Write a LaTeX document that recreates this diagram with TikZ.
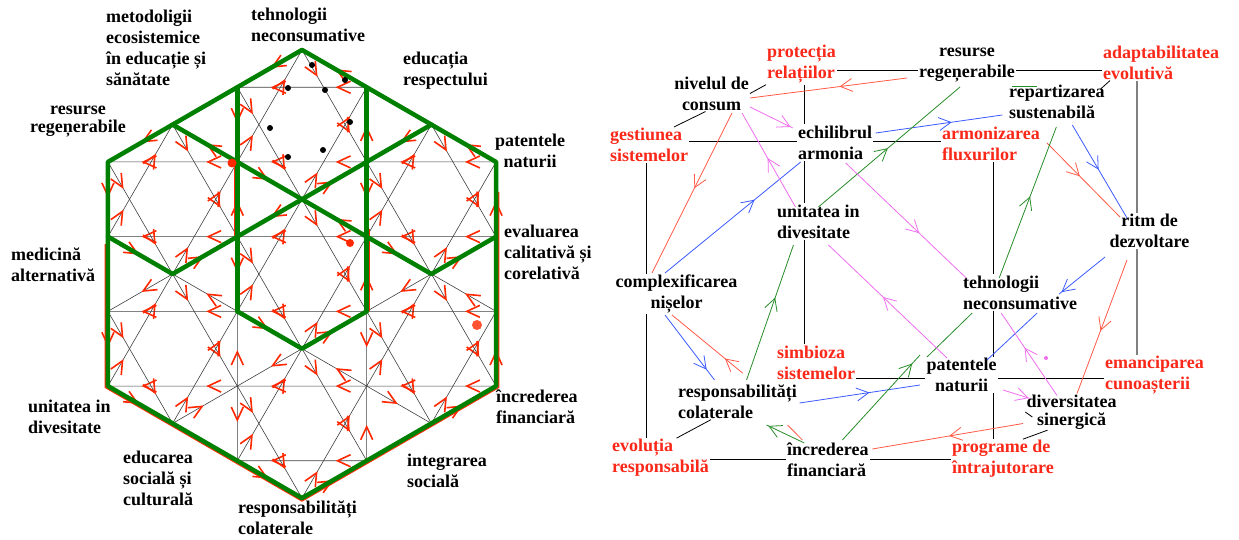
\documentclass[tikz,border=0pt]{standalone}
\usepackage{fontspec}
\setmainfont{Liberation Serif}
\usetikzlibrary{calc}
\usetikzlibrary{arrows.meta}
\usetikzlibrary{decorations.markings}

\definecolor{hexgreen}{RGB}{0,128,0}
\definecolor{barbred}{RGB}{255,40,0}
\definecolor{labelred}{RGB}{250,40,25}
\definecolor{linkred}{RGB}{255,90,70}
\definecolor{linkblue}{RGB}{60,90,255}
\definecolor{linkgreen}{RGB}{40,140,40}
\definecolor{linkpink}{RGB}{240,110,240}

\tikzset{
  lbl/.style={font=\fontsize{18}{21}\selectfont\bfseries, inner sep=1pt, align=left, anchor=west},
  clbl/.style={lbl, align=center, anchor=center},
  redlbl/.style={lbl, text=labelred},
  lattice/.style={draw=black!75, line width=0.6pt},
  barbs/.style={postaction={decorate}, decoration={markings,
      mark=between positions 0.08 and 1 step 0.1667 with
      {\arrow{Straight Barb[length=13pt,width=12pt,line width=1.6pt,color=barbred]}}}},
  kagome/.style={draw=hexgreen, line width=4.5pt, line join=round, line cap=round},
  cube/.style={draw=black, line width=0.8pt},
  link/.style={line width=0.8pt},
  tipat/.style={postaction={decorate}, decoration={markings,
      mark=at position #1 with {\arrow{Straight Barb[length=12pt,width=13pt]}}}},
}

\begin{document}
\begin{tikzpicture}[x=1pt, y=-1pt]
  \useasboundingbox[fill=white] (0,0) rectangle (1239,540);

  % seven cells, each with its star
  \begin{scope}[shift={(302,274)}, x=74.7pt, y=74.7pt]
    \foreach \ang/\dist in {0/0, 90/2, 30/2, -30/2, -90/2, -150/2, 150/2}{
      \begin{scope}[shift={(\ang:\dist)}]
        \draw[lattice, barbs] (90:1) -- (-30:1) -- (210:1) -- cycle;
        \draw[lattice, barbs] (-90:1) -- (30:1) -- (150:1) -- cycle;
        \draw[lattice, barbs] (90:1) -- (150:1) -- (210:1) -- (270:1) -- (330:1) -- (30:1) -- cycle;
      \end{scope}
    }
    \draw[barbred, line width=1.2pt] (-2.633,0.4) -- (-2.633,-1.52) -- (0,-3.04) -- (2.633,-1.52) -- (2.633,1.1);
    \draw[barbred, line width=1.2pt] (-0.906,1.45) -- (-0.906,0.45);
    \draw[barbred, line width=1.2pt] (0.906,0.6) -- (0.906,-0.5);

    \draw[kagome] (90:3) -- (150:3) -- (210:3) -- (270:3) -- (330:3) -- (30:3) -- cycle;
    \draw[kagome] (-0.866,2.5) -- (-0.866,-0.5);
    \draw[kagome] (0.866,2.5) -- (0.866,-0.5);
    \draw[kagome] (-1.732,2) -- (1.732,0) -- (2.598,0.5);
    \draw[kagome] (1.732,2) -- (-1.732,0) -- (-2.598,0.5);
    \draw[kagome] (-0.866,-0.5) -- (0,-1) -- (0.866,-0.5);
  \end{scope}

  \foreach \x/\y in {312/65, 345/80, 288/88, 325/90, 350/122, 270/128, 323/150, 288/157}
    \fill (\x,\y) circle (3pt);
  \fill[barbred] (232,163) circle (4.5pt);
  \fill[barbred] (350,243) circle (4pt);
  \fill[barbred, opacity=0.8] (477,325) circle (5pt);

  \node[lbl] (metod) at (105,48) {metodoligii\\ecosistemice\\în educație și\\sănătate};
  \node[lbl] (tehnL) at (250,24.5) {tehnologii\\neconsumative};
  \node[lbl] (educ) at (402,70.5) {educația\\respectului};
  \node[clbl, font=\fontsize{18}{18.5}\selectfont\bfseries] (resurseL) at (78,121.5) {resurse\\regeņerabile};
  \node[clbl] (patentL) at (530,151) {patentele\\naturii};
  \node[lbl] (evalL) at (503,252) {evaluarea\\calitativă și\\corelativă};
  \node[lbl] (medic) at (10,265) {medicină\\alternativă};
  \node[lbl] (unitL) at (27,416.5) {unitatea in\\divesitate};
  \node[lbl] (increderL) at (495,407) {încrederea\\financiară};
  \node[lbl] (educS) at (122,478.5) {educarea\\socială și\\culturală};
  \node[lbl] (integr) at (406,471) {integrarea\\socială};
  \node[lbl] (respL) at (237,518) {responsabilități\\colaterale};

  % the cube of notions
  \node[redlbl] (protect) at (766,64.5) {protecția\\relațiilor};
  \node[clbl] (nivel) at (711.5,93.5) {nivelul de\\consum};
  \node[clbl] (resurseR) at (967,65.5) {resurse\\regeņerabile};
  \node[redlbl] (adapt) at (1102,62.5) {adaptabilitatea\\evolutivă};
  \node[lbl] (repart) at (1008,102) {repartizarea\\sustenabilă};
  \node[redlbl] (gestiune) at (609,145) {gestiunea\\sistemelor};
  \node[lbl] (echil) at (797,142.5) {echilibrul\\armonia};
  \node[redlbl] (armoniz) at (941,143.5) {armonizarea\\fluxurilor};
  \node[lbl] (unitR) at (776,221.5) {unitatea in\\divesitate};
  \node[clbl] (ritm) at (1149.5,231) {ritm de\\dezvoltare};
  \node[clbl] (complex) at (676.5,294) {complexificarea\\nișelor};
  \node[lbl] (tehnR) at (962,292.5) {tehnologii\\neconsumative};
  \node[redlbl] (simbioza) at (776,362.5) {simbioza\\sistemelor};
  \node[clbl] (patentR) at (961.5,375) {patentele\\naturii};
  \node[redlbl] (emancip) at (1104,375) {emanciparea\\cunoașterii};
  \node[lbl] (respR) at (677,401.5) {responsabilități\\colaterale};
  \node[clbl, font=\fontsize{18}{17.5}\selectfont\bfseries] (divers) at (1071.5,412) {diversitatea\\sinergică};
  \node[redlbl] (evolutia) at (611,458) {evoluția\\responsabilă};
  \node[lbl] (increderea) at (786,460) {încrederea\\financiară};
  \node[redlbl] (programe) at (951,459) {programe de\\întrajutorare};

  \coordinate (btl) at (646,141);
  \coordinate (btr) at (993,141);
  \coordinate (bbl) at (646,459);
  \coordinate (ftl) at (804,70);
  \coordinate (ftr) at (1137,70);
  \coordinate (fbl) at (804,378);

  \draw[cube] (gestiune.east |- btl) -- (echil.west |- btl);
  \draw[cube] (echil.east |- btl) -- (armoniz.west |- btl);
  \draw[cube] (gestiune.south -| btl) -- (complex.north -| btl);
  \draw[cube] (complex.south -| btl) -- (evolutia.north -| btl);
  \draw[cube] (evolutia.east |- bbl) -- (increderea.west |- bbl);
  \draw[cube] (increderea.east |- bbl) -- (programe.west |- bbl);
  \draw[cube] (armoniz.south -| btr) -- (tehnR.north -| btr);
  \draw[cube] (tehnR.south -| btr) -- (patentR.north -| btr);
  \draw[cube] (patentR.south -| btr) -- (programe.north -| btr);
  \draw[cube] (protect.east |- ftl) -- (resurseR.west |- ftl);
  \draw[cube] (resurseR.east |- ftl) -- (adapt.west |- ftl);
  \draw[cube] (protect.south -| ftl) -- (echil.north -| ftl);
  \draw[cube] (echil.south -| ftl) -- (unitR.north -| ftl);
  \draw[cube] (unitR.south -| ftl) -- (simbioza.north -| ftl);
  \draw[cube] (simbioza.east |- fbl) -- (patentR.west |- fbl);
  \draw[cube] (patentR.east |- fbl) -- (emancip.west |- fbl);
  \draw[cube, draw=gray, line width=2pt] (adapt.south -| ftr) -- (ritm.north -| ftr);
  \draw[cube, draw=gray, line width=2pt] (ritm.south -| ftr) -- (emancip.north -| ftr);

  \draw[cube] (nivel.east) -- (protect.south west);
  \draw[cube] ([shift={(-6,0)}]nivel.south) -- ([shift={(65,0)}]gestiune.north west);
  \draw[cube] ([shift={(-5,5)}]repart.north east) -- ([shift={(8,0)}]adapt.south west);
  \draw[cube] ([shift={(16,0)}]evolutia.north) -- ([shift={(34,0)}]respR.south west);
  \draw[cube] ([shift={(72,0)}]programe.north west) -- ([shift={(-24,0)}]divers.south);
  \draw[cube] (divers.west) -- ++(7,5);

  % red links
  \draw[link, linkred, tipat=0.43] ([shift={(-60,12.5)}]resurseR.center) -- ([shift={(38.5,4.5)}]nivel.center);
  \draw[link, linkred, tipat=0.47] ([shift={(20.5,19.5)}]nivel.center) -- ([shift={(-24.5,-21)}]complex.center);
  \draw[link, linkred, tipat=0.25] ([shift={(5,-28.5)}]respR.center) -- ([shift={(-4.5,21)}]complex.center);
  \draw[link, linkred, tipat=0.45] ([shift={(56,-0.5)}]armoniz.center) -- ([shift={(-29.5,-14)}]ritm.center);
  \draw[link, linkred, tipat=0.53] ([shift={(-22.5,29)}]ritm.center) -- ([shift={(5.5,-18.5)}]divers.center);
  \draw[link, linkred, tipat=0.49] ([shift={(-48.5,11.5)}]divers.center) -- ([shift={(44.5,-11)}]increderea.center);
  \draw[link, linkred] ([shift={(50,23.5)}]respR.center) -- ([shift={(-25.5,-20)}]increderea.center);

  % blue links
  \draw[link, linkblue, tipat=0.6] ([shift={(40.5,-9.5)}]echil.center) -- ([shift={(-54.5,13)}]repart.center);
  \draw[link, linkblue, tipat=0.66] ([shift={(-11.5,-21)}]complex.center) -- ([shift={(-34.5,19.5)}]echil.center);
  \draw[link, linkblue, tipat=0.48] ([shift={(15.5,23)}]repart.center) -- ([shift={(-22.5,-13)}]ritm.center);
  \draw[link, linkblue, tipat=0.95] ([shift={(-44.5,26)}]ritm.center) -- ([shift={(39,1.5)}]tehnR.center);
  \draw[link, linkblue] ([shift={(17,20.5)}]tehnR.center) -- ([shift={(25.5,-15)}]patentR.center);
  \draw[link, linkblue, tipat=0.84] ([shift={(-11.5,21)}]complex.center) -- ([shift={(-23,-21.5)}]respR.center);
  \draw[link, linkblue, tipat=0.58] ([shift={(62,1.5)}]respR.center) -- ([shift={(-41.5,10)}]patentR.center);

  % green links
  \draw[link, linkgreen, tipat=0.49] ([shift={(0,-14.5)}]unitR.center) -- ([shift={(-7,21.5)}]resurseR.center);
  \draw[link, linkgreen, tipat=0.61] ([shift={(9,-21.5)}]respR.center) -- ([shift={(-25,23.5)}]unitR.center);
  \draw[link, linkgreen, tipat=0.54] ([shift={(-21,-14.5)}]tehnR.center) -- ([shift={(-0.5,25)}]repart.center);
  \draw[link, linkgreen, tipat=0.9] ([shift={(14.5,-20)}]increderea.center) -- ([shift={(-41.5,-20)}]patentR.center);
  \draw[link, linkgreen] ([shift={(-48,20.5)}]tehnR.center) -- ([shift={(-34.5,-18)}]patentR.center);
  \draw[link, linkgreen, tipat=0.95] ([shift={(-23.5,-17)}]increderea.center) -- ([shift={(29,23.5)}]respR.center);
  \draw[link, linkgreen] ([shift={(-44.5,-16)}]repart.center) -- ([shift={(-19.5,-16)}]repart.center);

  % pink links
  \draw[link, linkpink, tipat=0.95] ([shift={(38.5,13.5)}]nivel.center) -- ([shift={(-42.5,-14.5)}]echil.center);
  \draw[link, linkpink, tipat=0.52] ([shift={(-23,-14.5)}]unitR.center) -- ([shift={(30.5,19.5)}]nivel.center);
  \draw[link, linkpink, tipat=0.61] ([shift={(10.5,20.5)}]echil.center) -- ([shift={(-54,-14.5)}]tehnR.center);
  \draw[link, linkpink, tipat=0.54] ([shift={(-14.5,-17)}]patentR.center) -- ([shift={(10,23.5)}]unitR.center);
  \draw[link, linkpink, tipat=0.58] ([shift={(-14.5,-16.5)}]divers.center) -- ([shift={(-19,20.5)}]tehnR.center);
  \draw[link, linkpink, tipat=0.95] ([shift={(41.5,15)}]patentR.center) -- ([shift={(-41.5,-13.5)}]divers.center);
  \fill[linkpink] (1046,358) circle (2pt);
\end{tikzpicture}
\end{document}
